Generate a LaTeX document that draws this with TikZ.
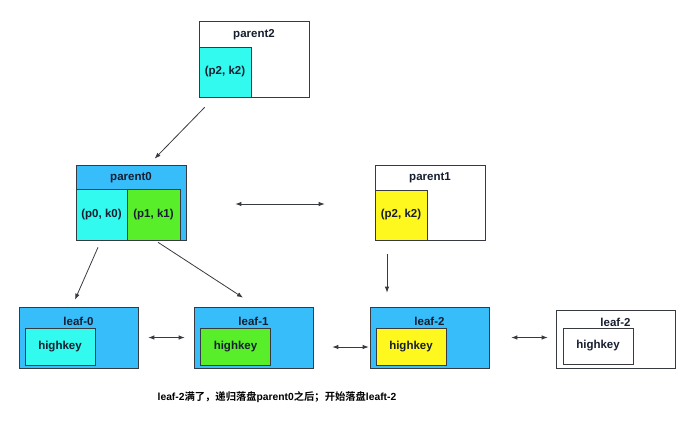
\documentclass[tikz,border=0pt]{standalone}
\usepackage{fontspec}
\setmainfont{Liberation Sans}
\newfontfamily\cjk{Noto Sans CJK SC}[BoldFont={* Bold}]
\usepackage{tikz}
\usetikzlibrary{arrows.meta,positioning}

\definecolor{boxblue}{RGB}{55,189,250}
\definecolor{keycyan}{RGB}{50,250,238}
\definecolor{keygreen}{RGB}{88,238,42}
\definecolor{keyyellow}{RGB}{255,248,30}
\definecolor{edgegray}{RGB}{55,58,64}
\definecolor{txtdark}{RGB}{22,30,48}

\begin{document}
\begin{tikzpicture}[x=1pt,y=-1pt,>=Latex,
    font=\fontsize{11.5}{13}\selectfont\bfseries\color{txtdark},
    page/.style={draw=edgegray,line width=0.7pt,inner sep=0pt,minimum width=110pt,minimum height=75pt},
    leafbox/.style={draw=edgegray,line width=0.7pt,inner sep=0pt,minimum width=119pt,minimum height=61pt},
    keybox/.style={draw=edgegray,line width=0.6pt,inner sep=0pt,minimum width=52pt,minimum height=50pt},
    hkbox/.style={draw=edgegray,line width=0.6pt,inner sep=0pt,minimum width=70pt,minimum height=37pt},
    lnk/.style={draw=edgegray,line width=0.8pt,-{Latex[length=6pt,width=4.5pt]}},
    twoway/.style={draw=edgegray,line width=0.8pt,{Latex[length=6pt,width=4.5pt]}-{Latex[length=6pt,width=4.5pt]}}]
  \useasboundingbox (0,0) rectangle (691,423);

  % parents
  \node[page,fill=white,minimum height=76pt] (parent2) at (254,59) {};
  \node (t2) at ([yshift=-14pt]parent2.north) {parent2};
  \node[keybox,fill=keycyan] (k2) at (225,72) {(p2, k2)};

  \node[page,fill=boxblue] (parent0) at (131,202.5) {};
  \node (t0) at ([yshift=-13pt]parent0.north) {parent0};
  \node[keybox,fill=keycyan,minimum width=51pt,minimum height=51pt] (k0) at (101.5,214.5) {(p0, k0)};
  \node[keybox,fill=keygreen,minimum width=53pt,minimum height=51pt] (k1) at (153.5,214.5) {(p1, k1)};

  \node[page,fill=white] (parent1) at (430,202.5) {};
  \node (t1) at ([yshift=-13pt]parent1.north) {parent1};
  \node[keybox,fill=keyyellow] (k2b) at (401,215) {(p2, k2)};

  % leaves
  \node[leafbox,fill=boxblue] (leaf0) at (78.5,337.5) {};
  \node (l0) at ([yshift=-15pt]leaf0.north) {leaf-0};
  \node[hkbox,fill=keycyan] (h0) at (60,346.5) {highkey};

  \node[leafbox,fill=boxblue] (leaf1) at (253.5,337.5) {};
  \node (l1) at ([yshift=-15pt]leaf1.north) {leaf-1};
  \node[hkbox,fill=keygreen] (h1) at (235.5,346.5) {highkey};

  \node[leafbox,fill=boxblue] (leaf2) at (429.5,337.5) {};
  \node (l2) at ([yshift=-15pt]leaf2.north) {leaf-2};
  \node[hkbox,fill=keyyellow] (h2) at (411,346.5) {highkey};

  \node[leafbox,fill=white,minimum height=58pt] (leaf3) at (615.5,339) {};
  \node (l3) at ([yshift=-13pt]leaf3.north) {leaf-2};
  \node[hkbox,fill=white,minimum height=36pt] (h3) at (598,346) {highkey};

  % links
  \draw[lnk] ([xshift=6pt,yshift=-10pt]parent2.south west) -- ([xshift=79pt,yshift=6pt]parent0.north west);
  \draw[twoway] ([xshift=49pt,yshift=-1.5pt]parent0.east) -- ([xshift=-50pt,yshift=-1.5pt]parent1.west);
  \draw[lnk] ([xshift=-3.5pt,yshift=-7pt]k0.south) -- ([xshift=-3.5pt,yshift=7pt]leaf0.north);
  \draw[lnk] ([xshift=4.5pt,yshift=-2pt]k1.south) -- ([xshift=-10.5pt,yshift=9pt]leaf1.north);
  \draw[lnk] ([xshift=-14pt,yshift=-14pt]k2b.south) -- ([xshift=-42.5pt,yshift=14pt]leaf2.north);
  \draw[twoway] ([xshift=10pt]leaf0.east) -- ([xshift=-9pt]leaf1.west);
  \draw[twoway] ([xshift=19pt,yshift=-9.5pt]leaf1.east) -- ([xshift=-1pt,yshift=-9.5pt]leaf2.west);
  \draw[twoway] ([xshift=22pt]leaf2.east) -- ([xshift=-8pt,yshift=1.5pt]leaf3.west);

  \node[font=\fontsize{10.3}{12}\selectfont\bfseries] (note) at (277,397)
    {leaf-2{\cjk 满了，递归落盘}parent0{\cjk 之后；开始落盘}leaft-2};
\end{tikzpicture}
\end{document}
